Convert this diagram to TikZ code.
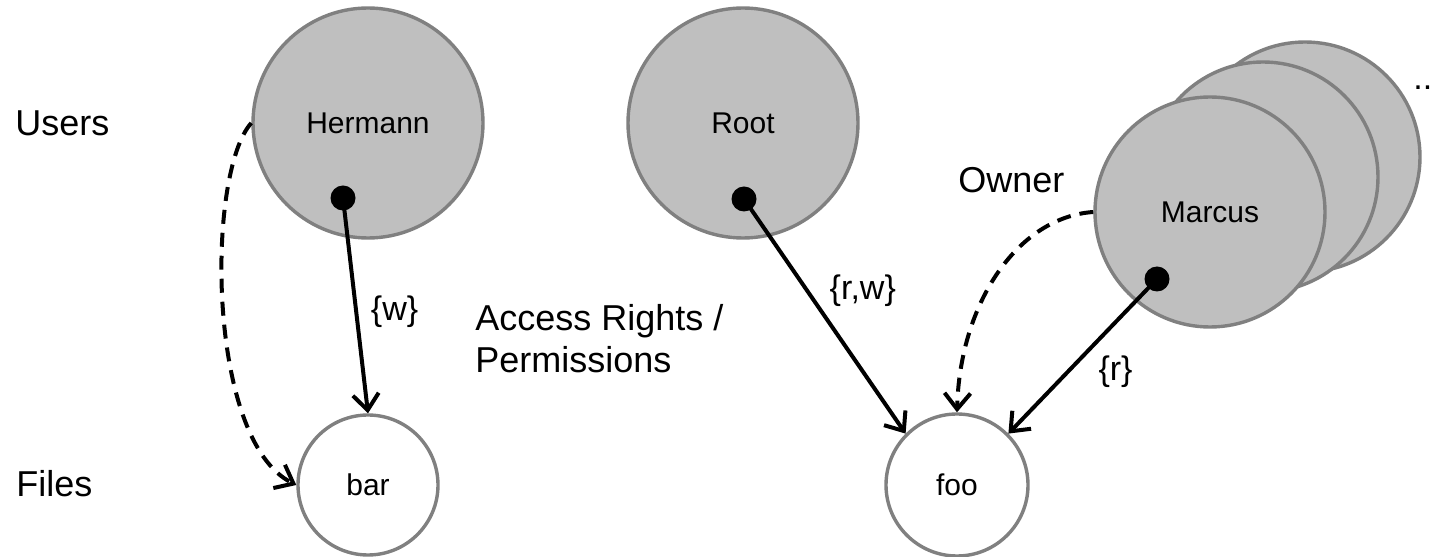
\documentclass[tikz,border=0pt]{standalone}
\usepackage{fontspec}
\setmainfont{Liberation Sans}
\usetikzlibrary{arrows.meta, positioning}

\definecolor{usergray}{HTML}{BFBFBF}
\definecolor{rimgray}{HTML}{808080}

\begin{document}
\begin{tikzpicture}[x=0.5pt, y=0.5pt,
  user/.style={circle, draw=rimgray, fill=usergray, line width=1.7pt, minimum size=115pt, font=\fontsize{15}{18}\selectfont},
  file/.style={circle, draw=rimgray, fill=white, line width=1.7pt, minimum size=70pt, font=\fontsize{15}{18}\selectfont},
  layer/.style={font=\fontsize{18}{21}\selectfont, inner sep=0pt},
  perm/.style={font=\fontsize{17}{20}\selectfont},
  dot/.style={circle, fill=black, inner sep=0pt, minimum size=12.5pt},
  grant/.style={line width=2pt, -{Straight Barb[length=8pt,width=13pt]}},
  owns/.style={grant, dash pattern=on 7pt off 4.5pt}]

  \useasboundingbox (0,0) rectangle (1436,557);

  % users, the stack behind Marcus first
  \node[user] (tail2) at (1305,400) {};
  \node[user] (tail1) at (1263,380) {};
  \node[user] (marcus) at (1210,345) {Marcus};
  \node[user] (hermann) at (368,434) {Hermann};
  \node[user] (root) at (743,434) {Root};

  % files
  \node[file] (bar) at (368,72) {bar};
  \node[file, minimum size=71pt] (foo) at (957,72) {foo};

  \node[dot] (hdot) at ([shift={(-25,-75)}]hermann.center) {};
  \node[dot] (rdot) at ([shift={(1,-76)}]root.center) {};
  \node[dot] (mdot) at ([shift={(-53,-67)}]marcus.center) {};

  % rights
  \draw[grant] (hdot.center) -- node[pos=.53, right=3pt, perm] {\{w\}} (bar.north);
  \draw[grant] (rdot.center) -- node[pos=.39, right=7pt, perm] {\{r,w\}} (foo.north west);
  \draw[grant] (mdot.center) -- node[pos=.6, right=11pt, perm] {\{r\}} (foo.north east);

  % ownership
  \draw[owns] (hermann.west) .. controls +(-45,-50) and +(-90,45) .. (bar.west);
  \draw[owns] (marcus.west) .. controls +(-75,-5) and +(3,110) .. (foo.north);

  \node[layer, anchor=base west] (users) at (15,421) {Users};
  \node[layer, anchor=base west] (files) at (16,60) {Files};
  \node[layer, anchor=base west] (owner) at (958,364) {Owner};
  \node[layer, anchor=north west, align=left] (rights) at (475,253) {Access Rights /\\Permissions};
  \node[perm, anchor=base west, inner sep=0pt] (more) at (1413,467) {..};
\end{tikzpicture}
\end{document}
